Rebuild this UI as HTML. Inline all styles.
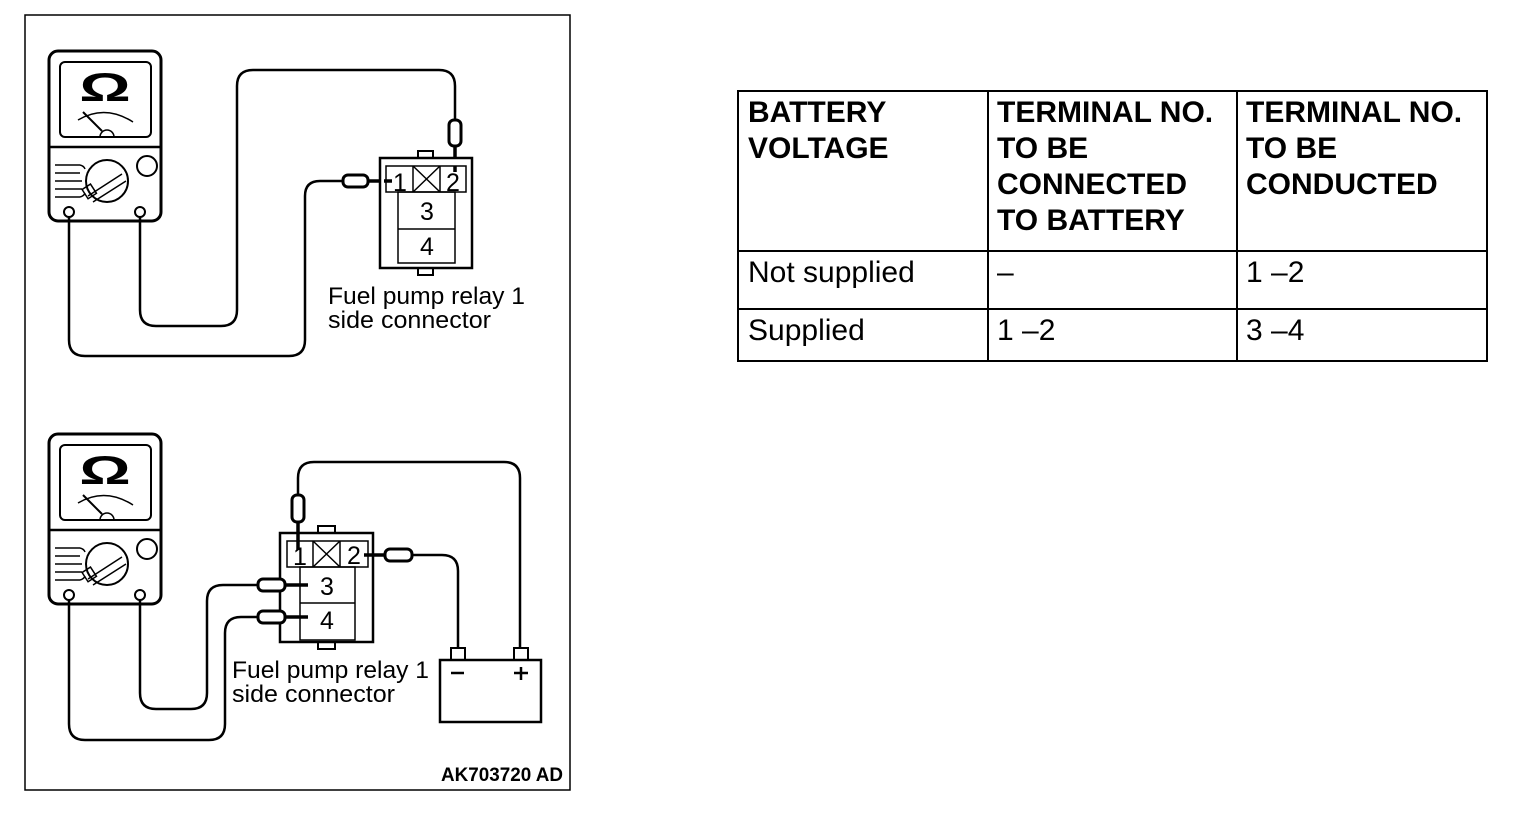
<!DOCTYPE html>
<html><head><meta charset="utf-8"><style>
html,body{margin:0;padding:0;background:#fff;}
svg{display:block}
text{font-family:"Liberation Sans",Arial,sans-serif;fill:#000}
</style></head><body>
<svg width="1536" height="826" viewBox="0 0 1536 826" xmlns="http://www.w3.org/2000/svg">
<defs>
<g id="meter" fill="none" stroke="#000">
  <rect x="49" y="51" width="112" height="170" rx="9" stroke-width="3" fill="#fff"/>
  <rect x="60" y="62" width="91" height="75" rx="5" stroke-width="2"/>
  <line x1="49" y1="147" x2="161" y2="147" stroke-width="2.5"/>
  <path d="M78,120 Q105,104 133,122" stroke-width="1.5"/>
  <line x1="83" y1="112" x2="102" y2="131" stroke-width="2"/>
  <path d="M100,137 A7,7 0 0 1 114,137" stroke-width="1.5"/>
  <circle cx="107" cy="181" r="21" stroke-width="2"/>
  <path d="M88,196 L122,174 M93,202 L126,181" stroke-width="1.5"/>
  <rect x="84" y="186" width="10" height="11" transform="rotate(-33 89 191)" stroke-width="1.5"/>
  <path d="M55,165 H80 M55,173 H80 M55,181 H82 M55,189 H82 M55,197 H80 M80,165 q4,1 5,4 M80,197 q4,-1 5,-4" stroke-width="1.5"/>
  <circle cx="147" cy="166" r="10" stroke-width="2"/>
  <circle cx="69" cy="212" r="5" stroke-width="2"/>
  <circle cx="140" cy="212" r="5" stroke-width="2"/>
</g>
</defs>
<rect x="25" y="15" width="545" height="775" fill="none" stroke="#000" stroke-width="1.5"/>

<!-- TOP -->
<use href="#meter"/>
<text transform="translate(105,101) scale(1.6,1)" font-size="40" font-weight="bold" text-anchor="middle">Ω</text>
<g fill="none" stroke="#000" stroke-width="2.5">
  <path d="M69,217 V340 Q69,356 85,356 H289 Q305,356 305,340 V196 Q305,181 320,181 H343"/>
  <path d="M140,217 V310 Q140,326 156,326 H221 Q237,326 237,310 V86 Q237,70 253,70 H439 Q455,70 455,86 V120"/>
  <rect x="343" y="175" width="25" height="12" rx="5" fill="#fff" stroke-width="3"/>
  <line x1="368" y1="181" x2="392" y2="181" stroke-width="3.5"/>
  <rect x="449" y="120" width="12" height="26" rx="5" fill="#fff" stroke-width="3"/>
  <line x1="455" y1="146" x2="455" y2="172" stroke-width="3.5"/>
  <rect x="380" y="158" width="92" height="110" fill="#fff"/>
  <rect x="418" y="151" width="15" height="7" stroke-width="2"/>
  <rect x="418" y="268" width="15" height="7" stroke-width="2"/>
  <rect x="386" y="166" width="80" height="26" stroke-width="1.5"/>
  <line x1="413" y1="166" x2="413" y2="192" stroke-width="1.5"/>
  <line x1="440" y1="166" x2="440" y2="192" stroke-width="1.5"/>
  <path d="M413,166 L440,192 M440,166 L413,192" stroke-width="1.5"/>
  <rect x="398" y="192" width="57" height="71" stroke-width="1.5"/>
  <line x1="398" y1="229" x2="455" y2="229" stroke-width="1.5"/>
  <line x1="384" y1="181" x2="392" y2="181" stroke-width="3.5"/>
  <line x1="455" y1="166" x2="455" y2="172" stroke-width="3.5"/>
</g>
<text x="400" y="191" font-size="25" text-anchor="middle">1</text>
<text x="453" y="191" font-size="25" text-anchor="middle">2</text>
<text x="427" y="220" font-size="25" text-anchor="middle">3</text>
<text x="427" y="255" font-size="25" text-anchor="middle">4</text>
<text x="328" y="304" font-size="24" textLength="197" lengthAdjust="spacingAndGlyphs">Fuel pump relay 1</text>
<text x="328" y="328" font-size="24" textLength="163" lengthAdjust="spacingAndGlyphs">side connector</text>

<!-- BOTTOM -->
<use href="#meter" y="383"/>
<text transform="translate(105,484) scale(1.6,1)" font-size="40" font-weight="bold" text-anchor="middle">Ω</text>
<g fill="none" stroke="#000" stroke-width="2.5">
  <path d="M69,600 V724 Q69,740 85,740 H209 Q225,740 225,724 V633 Q225,617 241,617 H258"/>
  <path d="M140,600 V693 Q140,709 156,709 H191 Q207,709 207,693 V601 Q207,585 223,585 H258"/>
  <path d="M298,495 V478 Q298,462 314,462 H504 Q520,462 520,478 V648"/>
  <path d="M412,555 H442 Q458,555 458,571 V648"/>
  <rect x="280" y="533" width="93" height="109" fill="#fff"/>
  <rect x="318" y="526" width="17" height="7" stroke-width="2"/>
  <rect x="318" y="642" width="17" height="7" stroke-width="2"/>
  <rect x="287" y="541" width="81" height="26" stroke-width="1.5"/>
  <line x1="313" y1="541" x2="313" y2="567" stroke-width="1.5"/>
  <line x1="340" y1="541" x2="340" y2="567" stroke-width="1.5"/>
  <path d="M313,541 L340,567 M340,541 L313,567" stroke-width="1.5"/>
  <rect x="300" y="567" width="55" height="73" stroke-width="1.5"/>
  <line x1="300" y1="603" x2="355" y2="603" stroke-width="1.5"/>
  <rect x="292" y="495" width="12" height="27" rx="5" fill="#fff" stroke-width="3"/>
  <line x1="298" y1="522" x2="298" y2="550" stroke-width="3.5"/>
  <rect x="385" y="549" width="27" height="12" rx="5" fill="#fff" stroke-width="3"/>
  <line x1="364" y1="555" x2="385" y2="555" stroke-width="3.5"/>
  <rect x="258" y="579" width="27" height="12" rx="5" fill="#fff" stroke-width="3"/>
  <line x1="285" y1="585" x2="308" y2="585" stroke-width="3.5"/>
  <rect x="258" y="611" width="27" height="12" rx="5" fill="#fff" stroke-width="3"/>
  <line x1="285" y1="617" x2="308" y2="617" stroke-width="3.5"/>
  <rect x="440" y="660" width="101" height="62" stroke-width="2.5"/>
  <rect x="451" y="648" width="14" height="12" stroke-width="2"/>
  <rect x="514" y="648" width="14" height="12" stroke-width="2"/>
  <line x1="451" y1="673" x2="464" y2="673" stroke-width="2.5"/>
  <path d="M521,667 V680 M514,673 H528" stroke-width="2.5"/>
</g>
<text x="300" y="565" font-size="25" text-anchor="middle">1</text>
<text x="354" y="564" font-size="25" text-anchor="middle">2</text>
<text x="327" y="595" font-size="25" text-anchor="middle">3</text>
<text x="327" y="629" font-size="25" text-anchor="middle">4</text>
<text x="232" y="678" font-size="24" textLength="197" lengthAdjust="spacingAndGlyphs">Fuel pump relay 1</text>
<text x="232" y="702" font-size="24" textLength="163" lengthAdjust="spacingAndGlyphs">side connector</text>
<text x="441" y="781" font-size="19" font-weight="bold" textLength="122" lengthAdjust="spacingAndGlyphs">AK703720 AD</text>

<!-- TABLE -->
<g fill="none" stroke="#000" stroke-width="2">
  <rect x="738" y="91" width="749" height="270"/>
  <line x1="988" y1="91" x2="988" y2="361"/>
  <line x1="1237" y1="91" x2="1237" y2="361"/>
  <line x1="738" y1="251" x2="1487" y2="251"/>
  <line x1="738" y1="309" x2="1487" y2="309"/>
</g>
<g font-size="30" font-weight="bold">
  <text x="748" y="122">BATTERY</text>
  <text x="748" y="158">VOLTAGE</text>
  <text x="997" y="122">TERMINAL NO.</text>
  <text x="997" y="158">TO BE</text>
  <text x="997" y="194">CONNECTED</text>
  <text x="997" y="230">TO BATTERY</text>
  <text x="1246" y="122">TERMINAL NO.</text>
  <text x="1246" y="158">TO BE</text>
  <text x="1246" y="194">CONDUCTED</text>
</g>
<g font-size="30">
  <text x="748" y="282">Not supplied</text>
  <text x="997" y="282">–</text>
  <text x="1246" y="282">1 –2</text>
  <text x="748" y="340">Supplied</text>
  <text x="997" y="340">1 –2</text>
  <text x="1246" y="340">3 –4</text>
</g>
</svg>
</body></html>
